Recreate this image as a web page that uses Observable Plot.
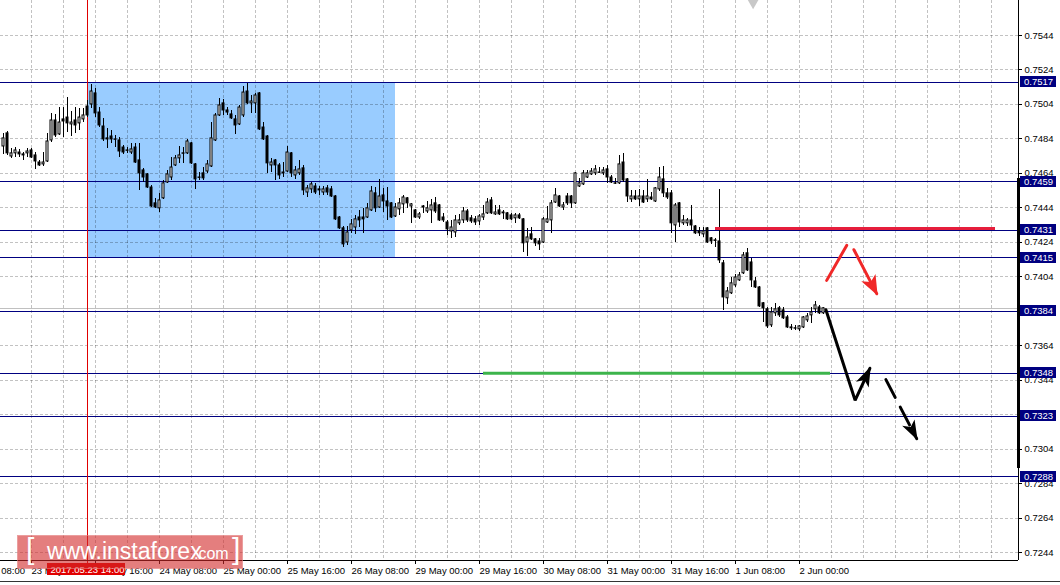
<!DOCTYPE html>
<html><head><meta charset="utf-8">
<script src="https://cdn.jsdelivr.net/npm/d3@7"></script>
<script src="https://cdn.jsdelivr.net/npm/@observablehq/plot@0.6"></script>
<style>
body{margin:0;background:#fff;}
#wrap{position:relative;width:1060px;height:585px;overflow:hidden;font-family:"Liberation Sans",Arial,sans-serif;background:#fff;}
#chart{position:absolute;left:0;top:0;}
#wm{position:absolute;left:17px;top:535px;width:226px;height:34px;background:rgba(210,40,40,0.6);box-shadow:inset 0 0 0 1px rgba(255,255,255,0.25);color:#fff;}
#wm span{position:absolute;white-space:nowrap;font-family:"Liberation Sans",Arial,sans-serif;}
#bl{position:absolute;left:0;top:581px;width:1060px;height:1px;background:#333;}
</style></head>
<body>
<div id="wrap">
  <div id="chart"></div>
  <div id="wm"><span style="left:9px;top:-3px;font-size:30px;font-weight:100;">[</span><span style="left:30px;top:3px;font-size:23px;">www.instaforex</span><span style="left:177px;top:10px;font-size:16px;">.com</span><span style="left:215px;top:-3px;font-size:30px;font-weight:100;">]</span></div>
  <div id="bl"></div>
</div>
<script>
// ---- H1 candles, bar 0 = 22 May 17:00 ----
const openP = [0.74796,0.74872,0.74738,0.74756,0.74761,0.74750,0.74756,0.74773,0.74744,0.74703,
0.74692,0.74709,0.74831,0.74947,0.74866,0.74953,0.74964,0.74924,0.74947,0.74930,
0.74953,0.75028,0.75040,0.75104,0.74993,0.74912,0.74843,0.74854,0.74837,0.74831,
0.74790,0.74773,0.74761,0.74790,0.74715,0.74657,0.74634,0.74558,0.74466,0.74437,
0.74495,0.74587,0.74616,0.74686,0.74727,0.74756,0.74756,0.74814,0.74692,0.74616,
0.74640,0.74651,0.74680,0.74831,0.74976,0.75046,0.75005,0.74982,0.74953,0.74924,
0.74976,0.75115,0.75046,0.75046,0.75104,0.74906,0.74854,0.74686,0.74715,0.74686,
0.74645,0.74651,0.74756,0.74628,0.74640,0.74669,0.74529,0.74547,0.74564,0.74547,
0.74529,0.74553,0.74547,0.74506,0.74384,0.74321,0.74239,0.74309,0.74326,0.74384,
0.74384,0.74384,0.74425,0.74524,0.74442,0.74512,0.74477,0.74466,0.74390,0.74431,
0.74460,0.74495,0.74448,0.74425,0.74384,0.74448,0.74419,0.74425,0.74466,0.74454,
0.74384,0.74355,0.74303,0.74297,0.74350,0.74367,0.74419,0.74379,0.74373,0.74361,
0.74384,0.74408,0.74483,0.74402,0.74425,0.74413,0.74408,0.74396,0.74379,0.74396,
0.74373,0.74239,0.74286,0.74257,0.74245,0.74239,0.74355,0.74367,0.74471,0.74506,
0.74442,0.74506,0.74506,0.74466,0.74564,0.74576,0.74616,0.74634,0.74640,0.74645,
0.74640,0.74663,0.74616,0.74582,0.74582,0.74703,0.74605,0.74489,0.74506,0.74489,
0.74506,0.74489,0.74500,0.74477,0.74547,0.74605,0.74524,0.74524,0.74338,0.74466,
0.74350,0.74350,0.74367,0.74332,0.74303,0.74286,0.74321,0.74263,0.74251,0.74245,
0.74118,0.73915,0.73944,0.73990,0.74019,0.74060,0.74176,0.74123,0.74013,0.73978,
0.73886,0.73851,0.73758,0.73828,0.73857,0.73845,0.73804,0.73746,0.73741,0.73735,
0.73746,0.73787,0.73816,0.73851,0.73862,0.73828];
const highP = [0.74872,0.74883,0.74785,0.74790,0.74779,0.74761,0.74785,0.74785,0.74761,0.74715,
0.74761,0.74872,0.74988,0.74982,0.75022,0.75022,0.75080,0.74999,0.75022,0.75017,
0.75017,0.75063,0.75156,0.75133,0.75022,0.74959,0.74901,0.74889,0.74860,0.74848,
0.74802,0.74790,0.74814,0.74814,0.74814,0.74669,0.74640,0.74570,0.74495,0.74524,
0.74599,0.74657,0.74732,0.74744,0.74796,0.74790,0.74837,0.74819,0.74698,0.74645,
0.74674,0.74715,0.74935,0.74988,0.75075,0.75069,0.75022,0.75005,0.74976,0.75034,
0.75144,0.75162,0.75092,0.75104,0.75110,0.74935,0.74860,0.74727,0.74721,0.74698,
0.74703,0.74796,0.74761,0.74680,0.74715,0.74686,0.74570,0.74587,0.74582,0.74564,
0.74564,0.74570,0.74564,0.74512,0.74390,0.74332,0.74332,0.74373,0.74396,0.74425,
0.74437,0.74466,0.74564,0.74558,0.74605,0.74553,0.74558,0.74471,0.74466,0.74495,
0.74512,0.74500,0.74466,0.74431,0.74413,0.74454,0.74477,0.74489,0.74500,0.74460,
0.74408,0.74367,0.74367,0.74396,0.74402,0.74442,0.74431,0.74396,0.74390,0.74402,
0.74454,0.74495,0.74500,0.74454,0.74454,0.74425,0.74413,0.74408,0.74408,0.74408,
0.74379,0.74321,0.74326,0.74263,0.74263,0.74384,0.74448,0.74483,0.74553,0.74512,
0.74471,0.74524,0.74512,0.74645,0.74611,0.74657,0.74657,0.74669,0.74686,0.74674,
0.74674,0.74686,0.74628,0.74611,0.74744,0.74756,0.74611,0.74541,0.74541,0.74547,
0.74541,0.74605,0.74529,0.74558,0.74674,0.74680,0.74553,0.74541,0.74466,0.74471,
0.74396,0.74379,0.74454,0.74338,0.74326,0.74326,0.74326,0.74268,0.74263,0.74547,
0.74135,0.73978,0.74036,0.74054,0.74066,0.74181,0.74205,0.74147,0.74036,0.73984,
0.73891,0.73862,0.73862,0.73886,0.73868,0.73862,0.73816,0.73764,0.73758,0.73758,
0.73810,0.73828,0.73862,0.73897,0.73874,0.73862];
const lowP = [0.74750,0.74744,0.74727,0.74732,0.74732,0.74715,0.74732,0.74727,0.74663,0.74680,
0.74680,0.74703,0.74819,0.74848,0.74860,0.74848,0.74877,0.74854,0.74872,0.74889,
0.74935,0.74964,0.75017,0.74964,0.74906,0.74825,0.74785,0.74814,0.74790,0.74732,
0.74750,0.74756,0.74750,0.74698,0.74541,0.74587,0.74553,0.74442,0.74437,0.74413,
0.74489,0.74582,0.74599,0.74680,0.74698,0.74698,0.74750,0.74692,0.74547,0.74599,
0.74599,0.74640,0.74674,0.74825,0.74970,0.74976,0.74976,0.74953,0.74866,0.74918,
0.74964,0.75040,0.74988,0.74988,0.74889,0.74831,0.74640,0.74645,0.74599,0.74605,
0.74616,0.74645,0.74616,0.74605,0.74628,0.74512,0.74500,0.74524,0.74518,0.74512,
0.74512,0.74512,0.74500,0.74367,0.74315,0.74210,0.74222,0.74292,0.74286,0.74326,
0.74292,0.74379,0.74419,0.74413,0.74437,0.74413,0.74367,0.74379,0.74384,0.74396,
0.74408,0.74437,0.74350,0.74379,0.74373,0.74408,0.74408,0.74350,0.74408,0.74361,
0.74355,0.74280,0.74263,0.74268,0.74338,0.74350,0.74355,0.74350,0.74338,0.74338,
0.74367,0.74402,0.74402,0.74396,0.74396,0.74373,0.74367,0.74367,0.74350,0.74373,
0.74181,0.74158,0.74251,0.74216,0.74193,0.74234,0.74350,0.74292,0.74466,0.74442,
0.74425,0.74454,0.74437,0.74460,0.74558,0.74570,0.74611,0.74628,0.74628,0.74640,
0.74628,0.74582,0.74582,0.74576,0.74576,0.74587,0.74471,0.74471,0.74483,0.74448,
0.74466,0.74471,0.74483,0.74471,0.74535,0.74500,0.74489,0.74292,0.74239,0.74326,
0.74338,0.74332,0.74309,0.74286,0.74274,0.74268,0.74234,0.74228,0.74210,0.74118,
0.73845,0.73880,0.73938,0.73978,0.74013,0.74054,0.74071,0.73978,0.73972,0.73862,
0.73775,0.73741,0.73746,0.73810,0.73804,0.73793,0.73741,0.73729,0.73729,0.73723,
0.73741,0.73775,0.73770,0.73828,0.73822,0.73822];
const closeP = [0.74843,0.74756,0.74756,0.74773,0.74750,0.74744,0.74767,0.74732,0.74709,0.74686,
0.74703,0.74825,0.74947,0.74860,0.74935,0.74941,0.74930,0.74935,0.74918,0.74964,
0.74976,0.74976,0.75115,0.74988,0.74918,0.74837,0.74837,0.74837,0.74835,0.74767,
0.74761,0.74771,0.74779,0.74703,0.74640,0.74616,0.74558,0.74448,0.74442,0.74483,
0.74582,0.74634,0.74674,0.74727,0.74744,0.74754,0.74825,0.74698,0.74605,0.74614,
0.74611,0.74692,0.74843,0.74976,0.75034,0.75005,0.74993,0.74959,0.74918,0.75022,
0.75109,0.75046,0.75057,0.75092,0.74895,0.74837,0.74698,0.74703,0.74686,0.74628,
0.74640,0.74761,0.74640,0.74657,0.74663,0.74541,0.74553,0.74576,0.74529,0.74541,
0.74547,0.74529,0.74506,0.74373,0.74321,0.74228,0.74297,0.74344,0.74373,0.74367,
0.74373,0.74437,0.74535,0.74437,0.74506,0.74477,0.74448,0.74384,0.74442,0.74466,
0.74500,0.74466,0.74460,0.74384,0.74402,0.74442,0.74437,0.74454,0.74419,0.74367,
0.74367,0.74315,0.74326,0.74367,0.74367,0.74419,0.74367,0.74361,0.74355,0.74390,
0.74402,0.74471,0.74408,0.74413,0.74402,0.74408,0.74373,0.74373,0.74396,0.74379,
0.74234,0.74268,0.74257,0.74234,0.74228,0.74373,0.74373,0.74466,0.74512,0.74448,
0.74454,0.74466,0.74466,0.74640,0.74582,0.74640,0.74640,0.74651,0.74663,0.74643,
0.74657,0.74616,0.74587,0.74580,0.74692,0.74599,0.74506,0.74506,0.74489,0.74506,
0.74471,0.74506,0.74489,0.74553,0.74616,0.74524,0.74500,0.74350,0.74454,0.74355,
0.74367,0.74367,0.74338,0.74292,0.74292,0.74303,0.74239,0.74245,0.74248,0.74135,
0.73920,0.73955,0.74002,0.74036,0.74048,0.74164,0.74077,0.74019,0.73978,0.73868,
0.73857,0.73752,0.73833,0.73851,0.73816,0.73799,0.73746,0.73741,0.73739,0.73752,
0.73804,0.73810,0.73833,0.73874,0.73828,0.73857];

// ---- levels, ticks, labels ----
const levelPrices = [0.7517,0.7459,0.7431,0.7415,0.7384,0.7348,0.7323,0.7288];
const priceTicks = [0.7244,0.7264,0.7284,0.7304,0.7324,0.7344,0.7364,0.7384,0.7404,0.7424,0.7444,0.7464,0.7484,0.7504,0.7524,0.7544];
const timeTickBars = [-9,7,23,39,55,71,87,103,119,135,151,167,183,199];
const timeTickLabels = ["22 May 08:00","23 May 00:00","23 May 16:00","24 May 08:00","25 May 00:00","25 May 16:00","26 May 08:00","29 May 00:00","29 May 16:00","30 May 08:00","31 May 00:00","31 May 16:00","1 Jun 08:00","2 Jun 00:00"];
const gridBars = [-1,7,15,23,31,39,47,55,63,71,79,87,95,103,111,119,127,135,143,151,159,167,175,183,191,199,207,215,223,231,239,247];
const crossBar = 21;
const crossLabel = "2017.05.23 14:00";
// ---- drawn objects ----
const zoneBars = [21, 98];
const zonePrices = [0.7415, 0.7517];
const resistBars = [178, 248];
const resistPrice = 0.7432;
const supportBars = [120, 206.75];
const supportPrice = 0.7348;
const redUpLine = [[205.8,0.74019],[210.8,0.74222]];
const redDownArrow = [[212.6,0.74197],[218.3,0.73942]];
const blackArrow = [[205.6,0.73849],[212.9,0.73323],[216.6,0.73509]];
const blackDashArrow = [[220.6,0.73443],[228.3,0.73101]];
const scaleBarPrices = [0.74611, 0.72929];
const topMarker = [[187.4, 0.75650]];

const bars = openP.map((o,i)=>({k:i,o,h:highP[i],l:lowP[i],c:closeP[i]}));
const bull = bars.filter(d=>d.c>=d.o), bear = bars.filter(d=>d.c<d.o);
const xDom = [-0.75, 253.75];
const yDom = [0.723935, 0.756431];
const pxX = (xDom[1]-xDom[0])/1018;
const pxY = (yDom[1]-yDom[0])/560;
const FS = 9.5;
const crisp = {shapeRendering: "crispEdges"};

function heads(list, color, L, W, N){
  return (index, scales) => {
    const g = d3.create("svg:g");
    if (!scales || typeof scales.x !== "function") return g.node();
    for (const path of list){
      const a = path[path.length-2], b = path[path.length-1];
      const x0 = scales.x(a[0]), y0 = scales.y(a[1]), x1 = scales.x(b[0]), y1 = scales.y(b[1]);
      const ang = Math.atan2(y1-y0, x1-x0), c = Math.cos(ang), s = Math.sin(ang);
      const pts = [[2,0],[-L,-W],[-L+N,0],[-L,W]].map(([u,v])=>[x1+0.5+u*c-v*s, y1+0.5+u*s+v*c]);
      g.append("polygon").attr("points", pts.map(p=>p.join(",")).join(" ")).attr("fill", color);
    }
    return g.node();
  };
}

const chart = Plot.plot({
  width: 1060, height: 585,
  marginLeft: 0, marginRight: 42, marginTop: 0, marginBottom: 25,
  style: {fontFamily: "Liberation Sans, Arial, sans-serif", fontSize: FS+"px", background: "white", overflow: "hidden"},
  x: {type: "linear", domain: xDom, axis: null},
  y: {type: "linear", domain: yDom, axis: null},
  marks: [
    Plot.rect([0], {x1: ()=>zoneBars[0], x2: ()=>zoneBars[1], y1: ()=>zonePrices[0], y2: ()=>zonePrices[1], fill: "#99ccff", ...crisp}),
    Plot.ruleY(priceTicks, {y: d=>d, stroke: "rgba(0,0,0,0.24)", strokeDasharray: "3,2", ...crisp}),
    Plot.ruleX(gridBars, {x: d=>d, stroke: "rgba(0,0,0,0.24)", strokeDasharray: "3,2", ...crisp}),
    Plot.dot(topMarker, {x: d=>d[0], y: d=>d[1], symbol: "diamond", r: 6, fill: "#c8c8c8"}),
    Plot.ruleY([closeP[closeP.length-1]], {y: d=>d, stroke: "#c0c0c0", ...crisp}),
    Plot.ruleY(levelPrices, {y: d=>d, stroke: "#000080", ...crisp}),
    Plot.ruleX([crossBar], {x: d=>d, y1: ()=>yDom[1], y2: ()=>yDom[0]-3*pxY, stroke: "#e00000", ...crisp}),
    Plot.ruleX(bars, {x: "k", y1: "l", y2: "h", stroke: "black", ...crisp}),
    Plot.rect(bear, {x1: d=>d.k-0.25, x2: d=>d.k+0.25, y1: "o", y2: "c", fill: "black", stroke: "black"}),
    Plot.rect(bull, {x1: d=>d.k-0.25, x2: d=>d.k+0.25, y1: "o", y2: "c", fill: "white", stroke: "black"}),
    Plot.ruleY([resistPrice], {y: d=>d, x1: ()=>resistBars[0], x2: ()=>resistBars[1], stroke: "#e61e3c", strokeWidth: 3}),
    Plot.ruleY([supportPrice], {y: d=>d, x1: ()=>supportBars[0], x2: ()=>supportBars[1], stroke: "#3cb44b", strokeWidth: 3}),
    Plot.line(redUpLine, {x: d=>d[0], y: d=>d[1], stroke: "#f02828", strokeWidth: 3}),
    Plot.line(redDownArrow, {x: d=>d[0], y: d=>d[1], stroke: "#f02828", strokeWidth: 3}),
    Plot.line(blackArrow, {x: d=>d[0], y: d=>d[1], stroke: "black", strokeWidth: 3, strokeLinejoin: "miter"}),
    Plot.line(blackDashArrow, {x: d=>d[0], y: d=>d[1], stroke: "black", strokeWidth: 3, strokeDasharray: "20,11"}),
    heads([redDownArrow], "#f02828", 18, 8, 5),
    heads([blackArrow, blackDashArrow], "black", 18, 7, 5),
    // axes
    Plot.ruleX([xDom[1]], {x: d=>d, stroke: "black", ...crisp}),
    Plot.ruleY([yDom[0]], {y: d=>d, stroke: "black", ...crisp}),
    Plot.ruleX([xDom[1]], {x: d=>d, y1: ()=>scaleBarPrices[0], y2: ()=>scaleBarPrices[1], stroke: "black", strokeWidth: 3, ...crisp}),
    Plot.ruleY(priceTicks, {y: d=>d, x1: ()=>xDom[1], x2: ()=>xDom[1]+4*pxX, stroke: "black", ...crisp}),
    Plot.text(priceTicks, {y: d=>d, x: ()=>xDom[1], dx: 6, textAnchor: "start", text: d=>d.toFixed(4), fill: "black", fontSize: FS}),
    Plot.rect(levelPrices, {x1: ()=>xDom[1]+0.5, x2: ()=>xDom[1]+9.5, y1: d=>d-5.5*pxY, y2: d=>d+5.5*pxY, fill: "#000080", ...crisp}),
    Plot.text(levelPrices, {y: d=>d, x: ()=>xDom[1]+5, text: d=>d.toFixed(4), fill: "white", fontSize: FS}),
    Plot.ruleX(timeTickBars, {x: d=>d, y1: ()=>yDom[0], y2: ()=>yDom[0]-4*pxY, stroke: "black", ...crisp}),
    Plot.text(timeTickBars, {x: d=>d, y: ()=>yDom[0]-10*pxY, text: (d,i)=>timeTickLabels[i], textAnchor: "start", fill: "black", fontSize: FS}),
    Plot.rect([crossBar], {x1: d=>d-9.9, x2: d=>d+9.6, y1: ()=>yDom[0]-3*pxY, y2: ()=>yDom[0]-15*pxY, fill: "#e00000", ...crisp}),
    Plot.text([crossBar], {x: d=>d, y: ()=>yDom[0]-9.5*pxY, text: ()=>crossLabel, fill: "white", fontSize: FS})
  ]
});
document.getElementById("chart").appendChild(chart);
</script>
</body></html>
